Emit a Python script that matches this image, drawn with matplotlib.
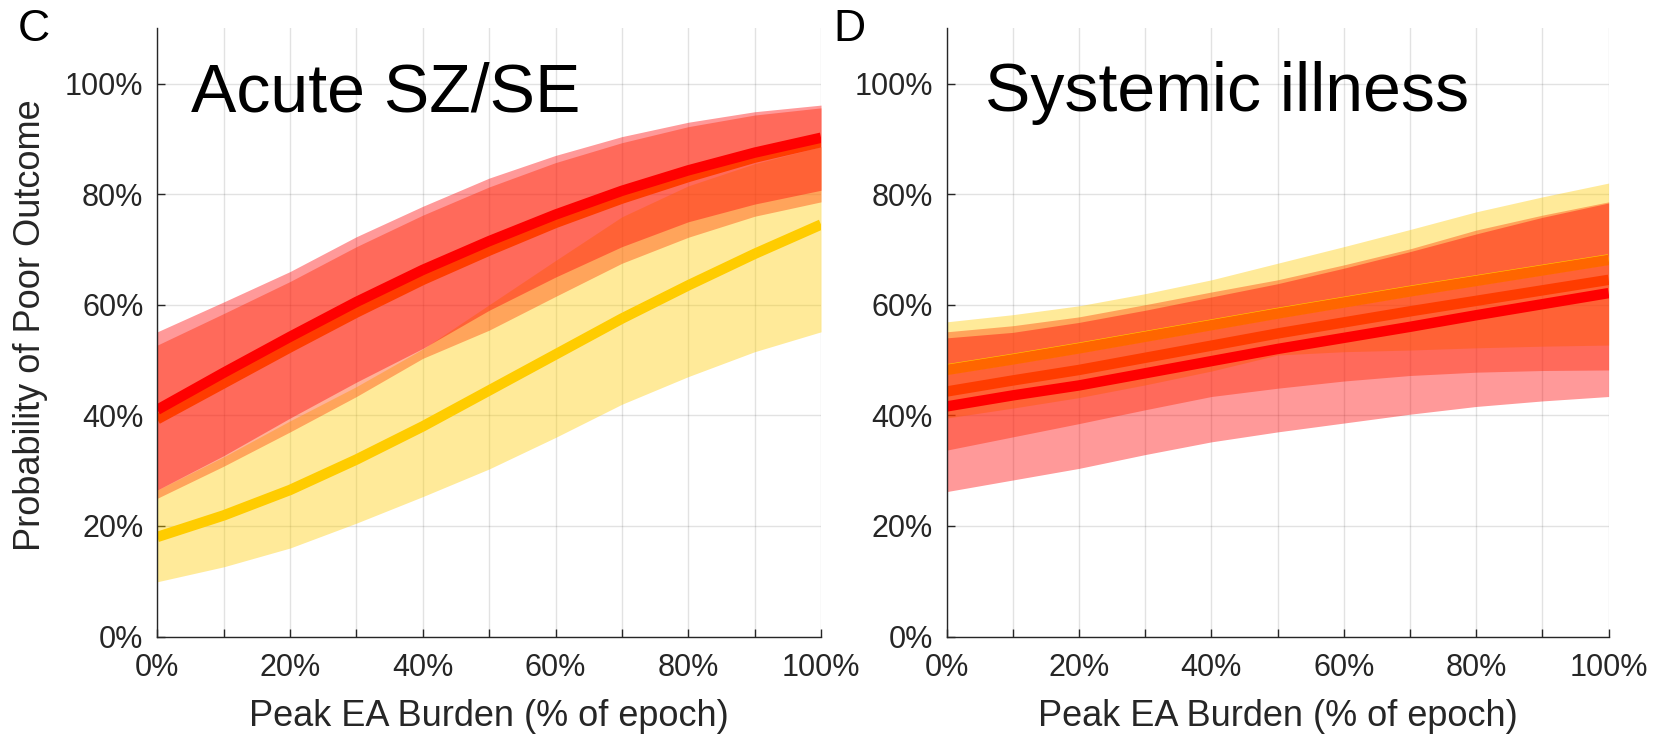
import numpy as np
import matplotlib
matplotlib.use('Agg')
import matplotlib.pyplot as plt

plt.rcParams['font.family'] = ['Liberation Sans', 'DejaVu Sans']

# Peak EA burden (% of epoch)
burden = [0, 10, 20, 30, 40, 50, 60, 70, 80, 90, 100]

# Panel C: acute SZ/SE, probability of poor outcome (%)
c_red = [41.0, 47.7, 54.2, 60.5, 66.3, 71.5, 76.3, 80.6, 84.3, 87.5, 90.2]
c_red_hi = [55.1, 60.5, 66.0, 72.3, 77.8, 82.9, 87.0, 90.4, 93.0, 94.9, 96.1]
c_red_lo = [26.5, 32.7, 39.5, 46.0, 52.1, 59.0, 65.0, 70.5, 75.0, 78.2, 80.7]
c_ored = [39.3, 45.8, 52.3, 58.6, 64.5, 69.8, 74.8, 79.2, 83.1, 86.6, 89.4]
c_ored_hi = [52.7, 58.4, 64.2, 70.5, 76.2, 81.3, 85.7, 89.3, 92.2, 94.3, 95.6]
c_ored_lo = [25.0, 30.8, 37.0, 43.4, 50.3, 55.4, 61.5, 67.5, 72.2, 76.0, 78.6]
c_yel = [18.0, 21.9, 26.5, 32.0, 38.0, 44.5, 51.0, 57.5, 63.5, 69.2, 74.5]
c_yel_hi = [26.5, 32.5, 39.0, 45.2, 52.0, 60.0, 68.0, 75.9, 81.5, 85.5, 88.6]
c_yel_lo = [9.9, 12.6, 16.0, 20.5, 25.3, 30.3, 36.0, 42.0, 47.0, 51.5, 55.1]

# Panel D: systemic illness
d_red = [41.6, 43.6, 45.4, 47.6, 49.8, 52.0, 54.0, 56.0, 58.1, 60.1, 62.1]
d_red_hi = [54.0, 55.0, 56.8, 59.0, 61.4, 63.8, 66.6, 69.6, 72.8, 75.8, 78.4]
d_red_lo = [26.2, 28.3, 30.4, 32.9, 35.2, 37.0, 38.6, 40.2, 41.6, 42.6, 43.4]
d_ored = [44.3, 46.3, 48.2, 50.4, 52.6, 54.8, 56.8, 58.8, 60.7, 62.6, 64.5]
d_ored_hi = [55.1, 56.2, 57.8, 60.0, 62.3, 64.5, 67.2, 70.1, 73.5, 76.2, 78.6]
d_ored_lo = [33.7, 36.1, 38.5, 41.0, 43.4, 44.9, 46.2, 47.2, 47.8, 48.1, 48.2]
d_org = [48.2, 50.1, 52.1, 54.2, 56.3, 58.4, 60.4, 62.4, 64.3, 66.2, 68.1]
d_yel = [48.3, 50.2, 52.2, 54.3, 56.4, 58.5, 60.5, 62.5, 64.4, 66.3, 68.2]
d_yel_hi = [56.9, 58.2, 59.8, 62.0, 64.5, 67.5, 70.5, 73.6, 76.8, 79.5, 82.0]
d_yel_lo = [39.5, 41.3, 43.2, 45.5, 48.0, 50.9, 51.5, 51.8, 52.2, 52.5, 52.7]

RED = '#ff0000'
ORED = '#ff3c00'
ORG = '#ff6600'
YEL = '#ffcc00'
AXC = '#262626'
LW = 7.5

fig = plt.figure(figsize=(16.56, 7.39), dpi=100)
ax_c = fig.add_axes([0.0950, 0.1387, 0.4008, 0.8231])
ax_d = fig.add_axes([0.5716, 0.1387, 0.3998, 0.8231])


def style(ax):
    ax.set_xlim(0, 100)
    ax.set_ylim(0, 110)
    ax.set_xticks(range(0, 101, 10))
    ax.set_xticklabels(['%d%%' % v if v % 20 == 0 else '' for v in range(0, 101, 10)])
    ax.set_yticks(range(0, 101, 20))
    ax.set_yticklabels(['%d%%' % v for v in range(0, 101, 20)])
    ax.grid(True, color=AXC, alpha=0.13, linewidth=1.0)
    ax.set_axisbelow(True)
    for s in ['top', 'right']:
        ax.spines[s].set_visible(False)
    for s in ['left', 'bottom']:
        ax.spines[s].set_color(AXC)
        ax.spines[s].set_linewidth(1.0)
    ax.tick_params(direction='in', length=6, width=1, color=AXC,
                   labelcolor=AXC, labelsize=22)
    ax.tick_params(axis='y', pad=10)
    ax.tick_params(axis='x', pad=12)
    ax.set_xlabel('Peak EA Burden (% of epoch)', fontsize=26, color=AXC)
    ax.xaxis.set_label_coords(0.5, -0.103)
    ax.xaxis.label.set_va('top')


def band(ax, lo, hi, col):
    ax.fill_between(burden, lo, hi, color=col, alpha=0.4, linewidth=0)


# panel C
band(ax_c, c_yel_lo, c_yel_hi, YEL)
band(ax_c, c_ored_lo, c_ored_hi, ORED)
band(ax_c, c_red_lo, c_red_hi, RED)
ax_c.plot(burden, c_yel, color=YEL, lw=LW, solid_capstyle='butt')
ax_c.plot(burden, c_ored, color=ORED, lw=LW, solid_capstyle='butt')
ax_c.plot(burden, c_red, color=RED, lw=LW, solid_capstyle='butt')
style(ax_c)
ax_c.text(5.1, 95.0, 'Acute SZ/SE', fontsize=49, va='baseline', ha='left')

# panel D
band(ax_d, d_yel_lo, d_yel_hi, YEL)
band(ax_d, d_ored_lo, d_ored_hi, ORED)
band(ax_d, d_red_lo, d_red_hi, RED)
ax_d.plot(burden, d_yel, color=YEL, lw=LW, solid_capstyle='butt')
ax_d.plot(burden, d_org, color=ORG, lw=LW, solid_capstyle='butt')
ax_d.plot(burden, d_ored, color=ORED, lw=LW, solid_capstyle='butt')
ax_d.plot(burden, d_red, color=RED, lw=LW, solid_capstyle='butt')
style(ax_d)
ax_d.text(5.75, 95.0, 'Systemic illness', fontsize=49, va='baseline', ha='left')

fig.text(31 / 1656, 1 - 325 / 739, 'Probability of Poor Outcome', fontsize=26,
         color=AXC, rotation=90, ha='center', va='center')
fig.text(18 / 1656, 1 - 41 / 739, 'C', fontsize=32, va='baseline', ha='left')
fig.text(833 / 1656, 1 - 41 / 739, 'D', fontsize=32, va='baseline', ha='left')

fig.savefig('out.png', dpi=100)
